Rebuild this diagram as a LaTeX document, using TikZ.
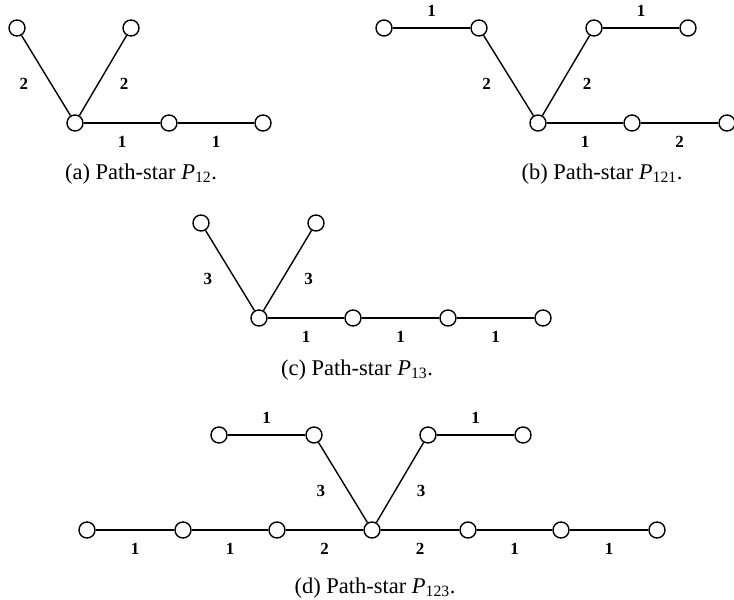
\documentclass[tikz,border=0pt]{standalone}
\usepackage{fontspec}
\setmainfont{Liberation Serif}
\usepackage{tikz}
\usetikzlibrary{positioning}

\newcommand{\pstar}[2]{(#1) Path-star \textit{P}\textsubscript{#2}.}

\begin{document}
\begin{tikzpicture}[x=1pt, y=-1pt,
  vertex/.style={circle, draw, line width=1.4pt, fill=white, inner sep=0pt,
                 minimum size=16pt},
  edge/.style={line width=1.4pt},
  wlabel/.style={font=\fontsize{17}{17}\selectfont\bfseries, inner sep=0pt},
  caption/.style={font=\fontsize{22.5}{24}\selectfont, inner sep=0pt}
]
  \useasboundingbox (0,0) rectangle (734,600);

  % (a) P_12
  \node[vertex] (a0) at (75,123) {};
  \node[vertex] (a1) at (17,28) {};
  \node[vertex] (a2) at (131,28) {};
  \node[vertex] (a3) at (169,123) {};
  \node[vertex] (a4) at (263,123) {};
  \draw[edge] (a0) -- node[wlabel, pos=0.4, left=22pt] {2} (a1);
  \draw[edge] (a0) -- node[wlabel, pos=0.4, right=21pt] {2} (a2);
  \draw[edge] (a0) -- node[wlabel, below=13pt] {1} (a3);
  \draw[edge] (a3) -- node[wlabel, below=13pt] {1} (a4);
  \node[caption] (capa) at (141,174) {\pstar{a}{12}};

  % (b) P_121
  \node[vertex] (b0) at (538,123) {};
  \node[vertex] (b1) at (479,28) {};
  \node[vertex] (b2) at (384,28) {};
  \node[vertex] (b3) at (594,28) {};
  \node[vertex] (b4) at (688,28) {};
  \node[vertex] (b5) at (632,123) {};
  \node[vertex] (b6) at (727,123) {};
  \draw[edge] (b0) -- node[wlabel, pos=0.4, left=22pt] {2} (b1);
  \draw[edge] (b2) -- node[wlabel, above=11pt] {1} (b1);
  \draw[edge] (b0) -- node[wlabel, pos=0.4, right=21pt] {2} (b3);
  \draw[edge] (b3) -- node[wlabel, above=11pt] {1} (b4);
  \draw[edge] (b0) -- node[wlabel, below=13pt] {1} (b5);
  \draw[edge] (b5) -- node[wlabel, below=13pt] {2} (b6);
  \node[caption] (capb) at (602,174) {\pstar{b}{121}};

  % (c) P_13
  \node[vertex] (c0) at (259,318) {};
  \node[vertex] (c1) at (201,223) {};
  \node[vertex] (c2) at (316,223) {};
  \node[vertex] (c3) at (353,318) {};
  \node[vertex] (c4) at (448,318) {};
  \node[vertex] (c5) at (543,318) {};
  \draw[edge] (c0) -- node[wlabel, pos=0.4, left=22pt] {3} (c1);
  \draw[edge] (c0) -- node[wlabel, pos=0.4, right=21pt] {3} (c2);
  \draw[edge] (c0) -- node[wlabel, below=13pt] {1} (c3);
  \draw[edge] (c3) -- node[wlabel, below=13pt] {1} (c4);
  \draw[edge] (c4) -- node[wlabel, below=13pt] {1} (c5);
  \node[caption] (capc) at (357,370) {\pstar{c}{13}};

  % (d) P_123
  \node[vertex] (d0) at (372,530) {};
  \node[vertex] (d1) at (314,435) {};
  \node[vertex] (d2) at (219,435) {};
  \node[vertex] (d3) at (428,435) {};
  \node[vertex] (d4) at (523,435) {};
  \node[vertex] (d5) at (277,530) {};
  \node[vertex] (d6) at (183,530) {};
  \node[vertex] (d7) at (87,530) {};
  \node[vertex] (d8) at (468,530) {};
  \node[vertex] (d9) at (561,530) {};
  \node[vertex] (d10) at (657,530) {};
  \draw[edge] (d0) -- node[wlabel, pos=0.4, left=22pt] {3} (d1);
  \draw[edge] (d2) -- node[wlabel, above=11pt] {1} (d1);
  \draw[edge] (d0) -- node[wlabel, pos=0.4, right=21pt] {3} (d3);
  \draw[edge] (d3) -- node[wlabel, above=11pt] {1} (d4);
  \draw[edge] (d7) -- node[wlabel, below=13pt] {1} (d6);
  \draw[edge] (d6) -- node[wlabel, below=13pt] {1} (d5);
  \draw[edge] (d5) -- node[wlabel, below=13pt] {2} (d0);
  \draw[edge] (d0) -- node[wlabel, below=13pt] {2} (d8);
  \draw[edge] (d8) -- node[wlabel, below=13pt] {1} (d9);
  \draw[edge] (d9) -- node[wlabel, below=13pt] {1} (d10);
  \node[caption] (capd) at (375,588) {\pstar{d}{123}};
\end{tikzpicture}
\end{document}
